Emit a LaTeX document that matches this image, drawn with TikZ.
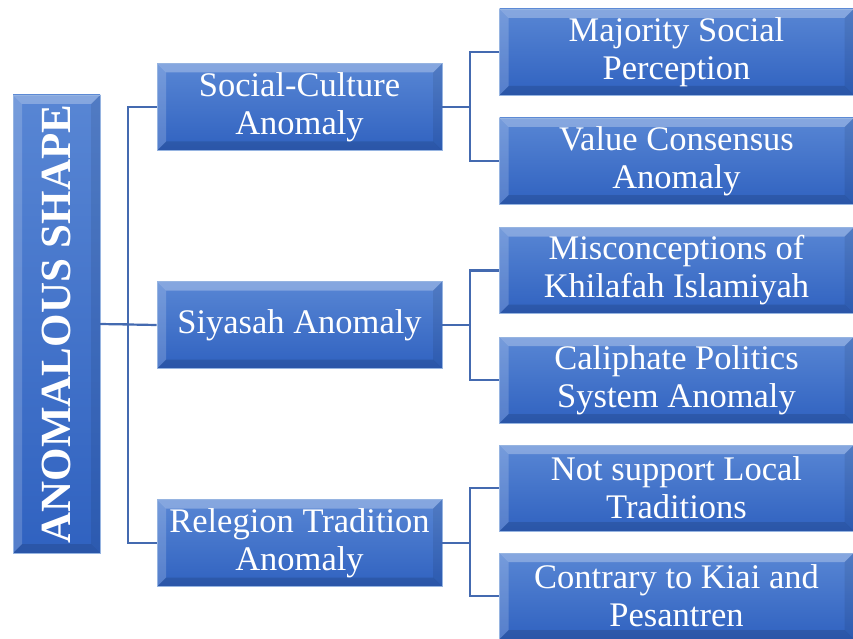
\documentclass[tikz,border=0pt]{standalone}
\usepackage{fontspec}
\setmainfont{Liberation Serif}
\usepackage{tikz}
\definecolor{boxtop}{RGB}{88,134,212}
\definecolor{boxbot}{RGB}{48,98,192}
\definecolor{boxedge}{RGB}{150,180,225}
\definecolor{linkblue}{RGB}{68,106,176}
\tikzset{
  bevelbox/.style={draw=boxedge, line width=0.8pt, top color=boxtop, bottom color=boxbot,
    text=white, align=center, inner sep=0pt,
    path picture={
      \fill[white,opacity=0.28] (path picture bounding box.north west) -- (path picture bounding box.north east)
        -- ([xshift=-9pt,yshift=-9pt]path picture bounding box.north east) -- ([xshift=9pt,yshift=-9pt]path picture bounding box.north west) -- cycle;
      \fill[white,opacity=0.18] (path picture bounding box.north west) -- ([xshift=9pt,yshift=-9pt]path picture bounding box.north west)
        -- ([xshift=9pt,yshift=9pt]path picture bounding box.south west) -- (path picture bounding box.south west) -- cycle;
      \fill[black,opacity=0.12] (path picture bounding box.south west) -- (path picture bounding box.south east)
        -- ([xshift=-9pt,yshift=9pt]path picture bounding box.south east) -- ([xshift=9pt,yshift=9pt]path picture bounding box.south west) -- cycle;
      \fill[black,opacity=0.08] (path picture bounding box.north east) -- ([xshift=-9pt,yshift=-9pt]path picture bounding box.north east)
        -- ([xshift=-9pt,yshift=9pt]path picture bounding box.south east) -- (path picture bounding box.south east) -- cycle;
    }},
  midbox/.style={bevelbox, minimum width=285pt, minimum height=87pt, font=\fontsize{34.5}{38}\selectfont},
  leafbox/.style={bevelbox, minimum width=354pt, minimum height=86pt, font=\fontsize{34.5}{38}\selectfont},
  link/.style={draw=linkblue, line width=2.2pt}
}
\begin{document}
\begin{tikzpicture}[x=1pt,y=-1pt]
      \useasboundingbox (0,0) rectangle (853,639);
      % root
      \node[bevelbox, minimum width=87pt, minimum height=458pt] (root) at (56.5,324) {};
      \node[rotate=90, text=white, font=\fontsize{43}{46}\selectfont\bfseries] (rootlbl) at (root.center) {ANOMALOUS SHAPE};
      % middle level
      \node[midbox] (social) at (299.5,107) {Social-Culture\\Anomaly};
      \node[midbox] (siyasah) at (299.5,325) {Siyasah Anomaly};
      \node[midbox] (relegion) at (299.5,543) {Relegion Tradition\\Anomaly};
      % leaves
      \node[leafbox] (majority) at (676.5,52) {Majority Social\\Perception};
      \node[leafbox] (value) at (676.5,161) {Value Consensus\\Anomaly};
      \node[leafbox] (miscon) at (676.5,270.5) {Misconceptions of\\Khilafah Islamiyah};
      \node[leafbox] (caliph) at (676.5,380) {Caliphate Politics\\System Anomaly};
      \node[leafbox] (support) at (676.5,488) {Not support Local\\Traditions};
      \node[leafbox] (contrary) at (676.5,596) {Contrary to Kiai and\\Pesantren};
      % connectors
      \draw[link] (root.east) -| ([xshift=-29pt]social.west) -- (social.west);
      \draw[link] (root.east) -- (siyasah.west);
      \draw[link] (root.east) -| ([xshift=-29pt]relegion.west) -- (relegion.west);
      \draw[link] (social.east) -| ([xshift=-29pt]majority.west) -- (majority.west);
      \draw[link] (social.east) -| ([xshift=-29pt]value.west) -- (value.west);
      \draw[link] (siyasah.east) -| ([xshift=-29pt]miscon.west) -- (miscon.west);
      \draw[link] (siyasah.east) -| ([xshift=-29pt]caliph.west) -- (caliph.west);
      \draw[link] (relegion.east) -| ([xshift=-29pt]support.west) -- (support.west);
      \draw[link] (relegion.east) -| ([xshift=-29pt]contrary.west) -- (contrary.west);
\end{tikzpicture}
\end{document}
